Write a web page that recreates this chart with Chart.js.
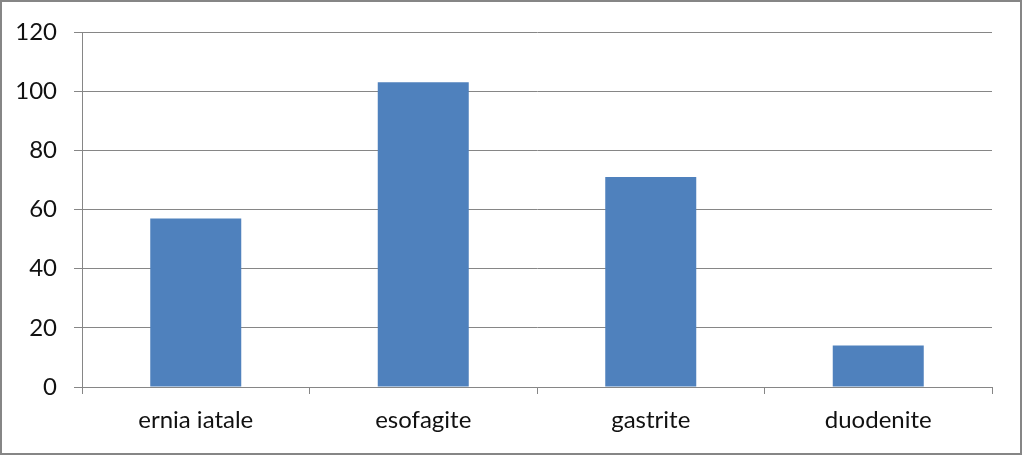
<!DOCTYPE html>
<html>
<head>
<meta charset="utf-8">
<script src="https://cdn.jsdelivr.net/npm/chart.js@4"></script>
<style>
    html, body { margin: 0; padding: 0; background: #fff; }
    #wrap { width: 1022px; height: 455px; position: relative; }
</style>
</head>
<body>
<div id="wrap"><canvas id="chart" width="1022" height="455"></canvas></div>
<script>
    const categories = ["ernia iatale", "esofagite", "gastrite", "duodenite"];
    const counts = [57, 103, 71, 14];
    const yMin = 0;
    const yMax = 120;
    const yStep = 20;

    const gridGray = "#868686";

    // Outer frame around the whole picture
    const framePlugin = {
        id: "frame",
        beforeDraw: (chart) => {
            const ctx = chart.ctx;
            ctx.save();
            ctx.fillStyle = "#ffffff";
            ctx.fillRect(0, 0, chart.width, chart.height);
            ctx.restore();
        },
        afterDraw: (chart) => {
            const ctx = chart.ctx;
            ctx.save();
            ctx.strokeStyle = gridGray;
            ctx.lineWidth = 2;
            ctx.strokeRect(1, 1, chart.width - 2, chart.height - 2);
            ctx.restore();
        }
    };

    new Chart(document.getElementById("chart"), {
        type: "bar",
        data: {
            labels: categories,
            datasets: [{
                data: counts,
                backgroundColor: "#4F81BD",
                borderWidth: 0,
                categoryPercentage: 1.0,
                barPercentage: 0.4
            }]
        },
        options: {
            responsive: false,
            animation: false,
            layout: { padding: { left: 0, top: 32, right: 30, bottom: 0 } },
            plugins: {
                legend: { display: false },
                tooltip: { enabled: false }
            },
            scales: {
                x: {
                    afterFit: (scale) => { scale.height = 68; },
                    grid: {
                        offset: true,
                        drawOnChartArea: false,
                        drawTicks: true,
                        tickLength: 7,
                        color: gridGray
                    },
                    border: { color: gridGray, width: 1 },
                    ticks: {
                        color: "#111",
                        padding: 12,
                        font: { family: "Lato", size: 24 }
                    }
                },
                y: {
                    min: yMin,
                    max: yMax,
                    afterFit: (scale) => { scale.width = 82; },
                    grid: {
                        color: gridGray,
                        drawTicks: true,
                        tickLength: 8
                    },
                    border: { color: gridGray, width: 1 },
                    ticks: {
                        stepSize: yStep,
                        color: "#111",
                        padding: 17,
                        font: { family: "Lato", size: 24 }
                    }
                }
            }
        },
        plugins: [framePlugin]
    });
</script>
</body>
</html>
